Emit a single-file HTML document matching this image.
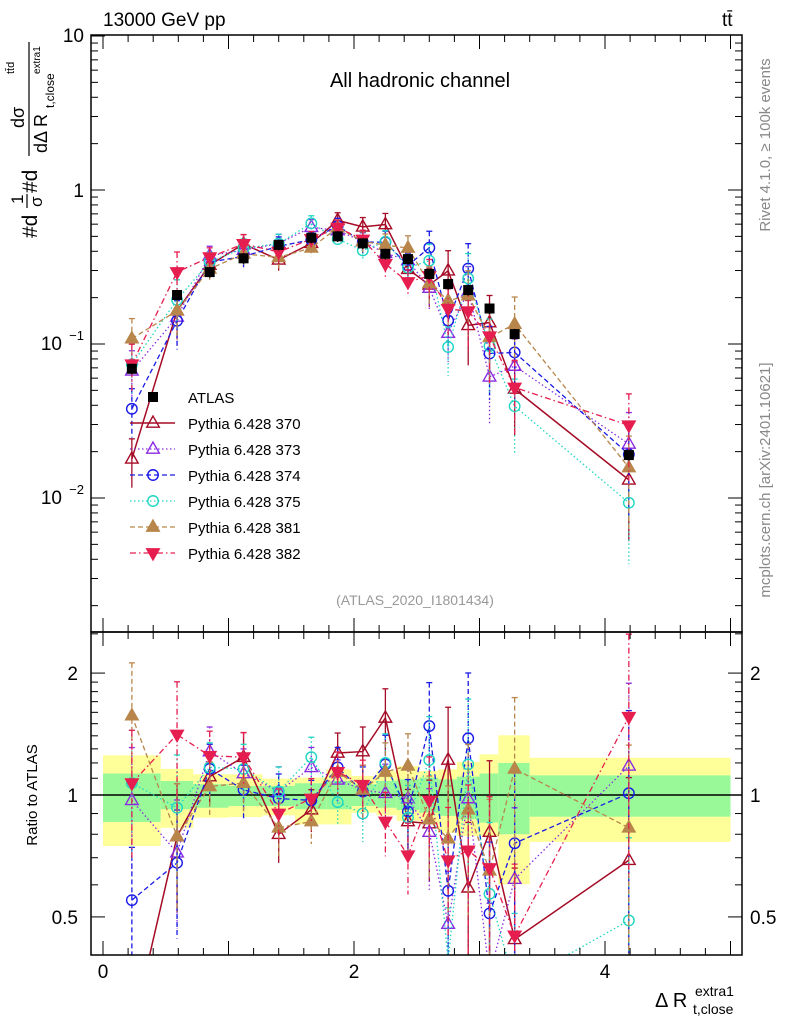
<!DOCTYPE html>
<html><head><meta charset="utf-8"><style>
html,body{margin:0;padding:0;background:#fff;overflow:hidden;width:786px;height:1024px;position:relative;}
svg{display:block;position:absolute;left:0;top:0;overflow:hidden;font-family:"Liberation Sans",sans-serif;}
</style></head><body>
<svg id="c" width="786" height="1024" viewBox="0 0 786 1024" xmlns="http://www.w3.org/2000/svg"></svg>
<script>
const xCenters=[0.23,0.59,0.85,1.12,1.40,1.66,1.87,2.07,2.25,2.43,2.60,2.75,2.91,3.08,3.28,4.19];
const binEdges=[0,0.46,0.72,1.0,1.27,1.53,1.78,1.98,2.18,2.34,2.52,2.67,2.82,3.0,3.15,3.4,5.0];
const atlasVals=[0.069,0.208,0.293,0.36,0.44,0.49,0.50,0.45,0.385,0.356,0.285,0.245,0.224,0.17,0.116,0.019];
const yellowUp=[1.253,1.16,1.125,1.125,1.097,1.104,1.157,1.114,1.146,1.179,1.146,1.157,1.207,1.26,1.404,1.236];
const yellowDn=[0.748,0.83,0.879,0.882,0.891,0.846,0.846,0.904,0.891,0.863,0.846,0.807,0.792,0.792,0.602,0.766];
const greenUp=[1.13,1.083,1.063,1.053,1.053,1.069,1.083,1.063,1.083,1.093,1.104,1.093,1.11,1.13,1.2,1.118];
const greenDn=[0.858,0.922,0.93,0.939,0.939,0.922,0.922,0.939,0.93,0.918,0.904,0.888,0.871,0.855,0.8,0.884];
const r370=[0.26,0.79,1.11,1.24,0.80,0.92,1.27,1.28,1.55,0.86,0.85,1.22,0.59,0.81,0.44,0.69];
const r373=[0.97,0.72,1.28,1.13,1.02,1.17,1.09,1.03,1.01,0.98,0.81,0.48,0.98,0.36,0.62,1.18];
const r374=[0.55,0.68,1.16,1.03,0.98,0.97,1.17,1.02,1.19,0.91,1.48,0.58,1.38,0.51,0.76,1.01];
const r375=[1.07,0.93,1.17,1.16,1.02,1.24,0.96,0.90,1.20,0.88,1.22,0.39,1.19,0.57,0.34,0.49];
const r381=[1.57,0.79,1.05,1.07,0.83,0.86,1.14,1.03,1.14,1.18,0.87,0.78,0.92,0.65,1.16,0.83];
const r382=[1.07,1.41,1.25,1.24,0.90,0.98,1.14,1.06,0.86,0.71,0.97,0.69,0.73,0.66,0.45,1.56];
const relErr=[0.35,0.35,0.15,0.15,0.15,0.12,0.12,0.15,0.18,0.2,0.28,0.35,0.45,0.5,0.5,0.6];
const seriesNames=["Pythia 6.428 370","Pythia 6.428 373","Pythia 6.428 374","Pythia 6.428 375","Pythia 6.428 381","Pythia 6.428 382"];

const svg=document.getElementById('c');
const NS="http://www.w3.org/2000/svg";
function el(t,a,p){const e=document.createElementNS(NS,t);for(const k in a)e.setAttribute(k,a[k]);(p||svg).appendChild(e);return e;}
const X=v=>103+v*125.5;
const YM=v=>190-Math.log10(v)*154;
const YR=v=>795-Math.log10(v)*405;
const L=91,R=742,T=35,MB=632,RB=955;

const defs=el('defs',{});
const c1=el('clipPath',{id:'cm'},defs);el('rect',{x:L,y:T,width:R-L,height:MB-T},c1);
const c2=el('clipPath',{id:'cr'},defs);el('rect',{x:L,y:MB,width:R-L,height:RB-MB},c2);

const gBand=el('g',{'clip-path':'url(#cr)'});


for(let i=0;i<xCenters.length;i++){
  const x0=X(binEdges[i]),x1=X(binEdges[i+1]);
  const y=el('rect',{x:x0,y:YR(yellowUp[i]),width:x1-x0,height:YR(yellowDn[i])-YR(yellowUp[i]),fill:'#ffff99'},gBand);
  
  
  const g=el('rect',{x:x0,y:YR(greenUp[i]),width:x1-x0,height:YR(greenDn[i])-YR(greenUp[i]),fill:'#99f999'},gBand);
  
  
}
el('line',{x1:L,x2:R,y1:YR(1),y2:YR(1),stroke:'#000','stroke-width':1.5});

const styles=[
 {c:'#a50b26',d:'',m:'tri',f:false,w:1.5},
 {c:'#8a2be2',d:'1.5,2.5',m:'tri',f:false,w:1.3},
 {c:'#1a1ae6',d:'5,3',m:'circ',f:false,w:1.3},
 {c:'#1ed6c2',d:'1.5,2.5',m:'circ',f:false,w:1.3},
 {c:'#b8864b',d:'5,3',m:'tri',f:true,w:1.3},
 {c:'#e61e50',d:'6,3,1.5,3',m:'dtri',f:true,w:1.3}
];
const ratios=[r370,r373,r374,r375,r381,r382];
function marker(g,m,x,y,c,f,s){
  s=s||7;
  if(m==='tri') el('polygon',{points:`${x},${y-s} ${x-s*0.9},${y+s*0.6} ${x+s*0.9},${y+s*0.6}`,fill:f?c:'none',stroke:c,'stroke-width':1.4},g);
  else if(m==='dtri') el('polygon',{points:`${x},${y+s} ${x-s*0.9},${y-s*0.6} ${x+s*0.9},${y-s*0.6}`,fill:f?c:'none',stroke:c,'stroke-width':1.4},g);
  else if(m==='circ') el('circle',{cx:x,cy:y,r:s*0.75,fill:f?c:'none',stroke:c,'stroke-width':1.4},g);
  else el('rect',{x:x-5,y:y-5,width:10,height:10,fill:c},g);
}
function drawSeries(k,panel){
  const st=styles[k];const Y=panel==='m'?YM:YR;
  const g=el('g',{'clip-path':panel==='m'?'url(#cm)':'url(#cr)'});
  
  
  const vals=ratios[k].map((r,i)=>panel==='m'?r*atlasVals[i]:r);
  let d='';
  vals.forEach((v,i)=>{d+=(i?'L':'M')+X(xCenters[i])+','+Y(v);});
  el('path',{d,fill:'none',stroke:st.c,'stroke-width':st.w,'stroke-dasharray':st.d},g);
  vals.forEach((v,i)=>{
    const x=X(xCenters[i]),e=relErr[i];
    el('line',{x1:x,x2:x,y1:Y(v*(1+e)),y2:Y(Math.max(v*(1-e),1e-6)),stroke:st.c,'stroke-width':1.3,'stroke-dasharray':st.d},g);
    el('line',{x1:x-3,x2:x+3,y1:Y(v*(1+e)),y2:Y(v*(1+e)),stroke:st.c,'stroke-width':1.3},g);
    marker(g,st.m,x,Y(v),st.c,st.f);
  });
}
for(let k=0;k<6;k++){drawSeries(k,'m');drawSeries(k,'r');}
const ga=el('g',{});


atlasVals.forEach((v,i)=>{const x=X(xCenters[i]);
  el('line',{x1:x,x2:x,y1:YM(v*1.08),y2:YM(v*0.92),stroke:'#000','stroke-width':1.3},ga);
  marker(ga,'sq',x,YM(v),'#000',true);});

el('rect',{x:L,y:T,width:R-L,height:MB-T,fill:'none',stroke:'#000','stroke-width':1.5});
el('rect',{x:L,y:MB,width:R-L,height:RB-MB,fill:'none',stroke:'#000','stroke-width':1.5});
for(let dec=-3;dec<=0;dec++){for(let m=1;m<10;m++){const v=m*Math.pow(10,dec);const y=YM(v);if(y<T||y>MB)continue;
  const len=m===1?14:7;
  el('line',{x1:L,x2:L+len,y1:y,y2:y,stroke:'#000'});el('line',{x1:R,x2:R-len,y1:y,y2:y,stroke:'#000'});}}
el('line',{x1:L,x2:L+14,y1:YM(10),y2:YM(10),stroke:'#000'});
[0.4,0.5,0.6,0.7,0.8,0.9,1,1.1,1.2,1.3,1.4,1.5,1.6,1.7,1.8,1.9,2,2.5].forEach(v=>{const y=YR(v);if(y<MB||y>RB)return;const len=(v===0.5||v===1||v===2)?14:7;
  el('line',{x1:L,x2:L+len,y1:y,y2:y,stroke:'#000'});el('line',{x1:R,x2:R-len,y1:y,y2:y,stroke:'#000'});});
for(let v=0;v<=5.01;v+=0.2){const x=X(v);if(x>R)break;const maj=Math.abs(v-Math.round(v))<0.01;const len=maj?14:7;
  el('line',{x1:x,x2:x,y1:MB,y2:MB-len,stroke:'#000'});el('line',{x1:x,x2:x,y1:MB,y2:MB+len,stroke:'#000'});
  el('line',{x1:x,x2:x,y1:RB,y2:RB-len,stroke:'#000'});el('line',{x1:x,x2:x,y1:T,y2:T+len,stroke:'#000'});}

function txt(s,a,name,p){const t=el('text',a,p);t.textContent=s;return t;}
txt('10',{x:84,y:42,'font-size':19,'text-anchor':'end'},'y-tick-10');
txt('1',{x:84,y:197,'font-size':19,'text-anchor':'end'},'y-tick-1');
txt('10',{x:62,y:350,'font-size':19,'text-anchor':'end'},'y-tick-0.1');
txt('−1',{x:84,y:340,'font-size':13,'text-anchor':'end'},'y-tick-0.1-exp');
txt('10',{x:62,y:504,'font-size':19,'text-anchor':'end'},'y-tick-0.01');
txt('−2',{x:84,y:494,'font-size':13,'text-anchor':'end'},'y-tick-0.01-exp');
[['2',2],['1',1],['0.5',0.5]].forEach(([s,v])=>{
  txt(s,{x:78,y:YR(v)+7,'font-size':19,'text-anchor':'end'},'ratio-tick-left-'+s);
  txt(s,{x:750,y:YR(v)+7,'font-size':19},'ratio-tick-right-'+s);});
[0,2,4].forEach(v=>txt(String(v),{x:X(v),y:978,'font-size':19,'text-anchor':'middle'},'x-tick-'+v));
txt('13000 GeV pp',{x:103,y:26,'font-size':19},'energy-label');
txt('tt̄',{x:722,y:26,'font-size':19},'process-label');
txt('All hadronic channel',{x:420,y:87,'font-size':20,'text-anchor':'middle'},'plot-title');
txt('(ATLAS_2020_I1801434)',{x:415,y:605,'font-size':14,fill:'#999','text-anchor':'middle'},'analysis-id');
txt('Rivet 4.1.0, ≥ 100k events',{x:770,y:145,'font-size':15,fill:'#888','text-anchor':'middle',transform:'rotate(-90 770 145)'},'rivet-label');
txt('mcplots.cern.ch [arXiv:2401.10621]',{x:770,y:480,'font-size':15,fill:'#888','text-anchor':'middle',transform:'rotate(-90 770 480)'},'mcplots-label');
txt('Ratio to ATLAS',{x:37,y:795,'font-size':15,'text-anchor':'middle',transform:'rotate(-90 37 795)'},'ratio-axis-title');
const yg=el('g',{transform:'rotate(-90)'});


txt('#d',{x:-238,y:37,'font-size':21},'y-title-d1',yg);
txt('1',{x:-204,y:23,'font-size':17},'y-title-1',yg);
el('line',{x1:-208,x2:-194,y1:27,y2:27,stroke:'#000','stroke-width':1.2},yg);
txt('σ',{x:-207,y:42,'font-size':17},'y-title-sigma',yg);
txt('#d',{x:-193,y:37,'font-size':21},'y-title-d2',yg);
txt('dσ',{x:-128,y:24,'font-size':18},'y-title-dsigma',yg);
txt('tt̄d',{x:-74,y:14,'font-size':11},'y-title-sup',yg);
el('line',{x1:-156,x2:-42,y1:29,y2:29,stroke:'#000','stroke-width':1.2},yg);
txt('dΔ R',{x:-153,y:47,'font-size':18},'y-title-dr',yg);
txt('t,close',{x:-108,y:54,'font-size':12},'y-title-sub',yg);
txt('extra1',{x:-74,y:40,'font-size':10},'y-title-sup2',yg);
txt('Δ R',{x:655,y:1007,'font-size':20},'x-axis-title');
txt('extra1',{x:695,y:996,'font-size':14},'x-axis-sup');
txt('t,close',{x:693,y:1014,'font-size':14},'x-axis-sub');
const lg=el('g',{});


marker(lg,'sq',153,397,'#000',true);
txt('ATLAS',{x:188,y:403,'font-size':15},'legend-atlas');
for(let k=0;k<6;k++){const y=423+k*26,st=styles[k];
  el('line',{x1:130,x2:175,y1:y,y2:y,stroke:st.c,'stroke-width':st.w,'stroke-dasharray':st.d},lg);
  marker(lg,st.m,153,y,st.c,st.f);
  txt(seriesNames[k],{x:188,y:y+6,'font-size':15},'legend-entry-'+seriesNames[k].split(' ').pop());}
</script>
</body></html>
